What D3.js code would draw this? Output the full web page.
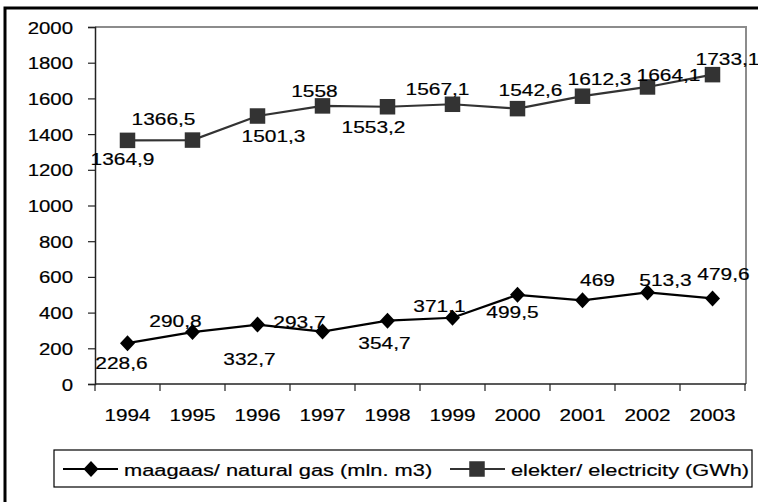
<!DOCTYPE html>
<html>
<head>
<meta charset="utf-8">
<script src="https://cdn.jsdelivr.net/npm/d3@7"></script>
<style>
  html, body { margin: 0; padding: 0; background: #fff; }
  svg { display: block; }
  text { font-family: "Liberation Sans", Arial, Helvetica, sans-serif; font-size: 17px; fill: #000; stroke: #000; stroke-width: 0.2px; }
</style>
</head>
<body>
<svg id="chart" width="758" height="502"></svg>
<script>
// ---- data ----
const years = ["1994","1995","1996","1997","1998","1999","2000","2001","2002","2003"];
const gasValues = [228.6, 290.8, 332.7, 293.7, 354.7, 371.1, 499.5, 469, 513.3, 479.6];
const elecValues = [1364.9, 1366.5, 1501.3, 1558, 1553.2, 1567.1, 1542.6, 1612.3, 1664.1, 1733.1];
const gasLabels = ["228,6","290,8","332,7","293,7","354,7","371,1","499,5","469","513,3","479,6"];
const elecLabels = ["1364,9","1366,5","1501,3","1558","1553,2","1567,1","1542,6","1612,3","1664,1","1733,1"];
const yTicks = [0, 200, 400, 600, 800, 1000, 1200, 1400, 1600, 1800, 2000];
const seriesNames = ["maagaas/ natural gas (mln. m3)", "elekter/ electricity (GWh)"];

// label placement offsets relative to each point (dx of label centre, dy of baseline)
const gasLabelDx = [-6, -17, -8, -23, -3, -13, -5, 15, 18, 11];
const gasLabelDy = [26, -5, 40, -4, 28, -6, 23, -14, -6, -18];
const elecLabelDx = [-5, -29, 16, -8, -14, -15, 13, 17, 21, 15];
const elecLabelDy = [25, -15, 26, -9, 26, -9, -13, -11, -6, -10];

// ---- layout ----
const svg = d3.select("#chart");
const pLeft = 95, pRight = 746, pTop = 27, pBottom = 384;

const x = d3.scaleBand().domain(years).range([pLeft, pRight - 1]);
const y = d3.scaleLinear().domain([0, 2000]).range([pBottom, pTop]);
const cx = d => x(d) + x.bandwidth() / 2;

function stretchedText(g, tx, ty, str, anchor, sx) {
  return g.append("text")
    .attr("transform", `translate(${tx},${ty}) scale(${sx || 1.2},1)`)
    .attr("text-anchor", anchor || "middle")
    .text(str);
}

// outer frame
svg.append("rect")
  .attr("x", 5).attr("y", 8).attr("width", 800).attr("height", 600)
  .attr("fill", "none").attr("stroke", "#000").attr("stroke-width", 3);

// plot area border (top & right, gray)
svg.append("path")
  .attr("d", `M${pLeft},${pTop}H${pRight}V${pBottom}`)
  .attr("fill", "none").attr("stroke", "#8c8c8c").attr("stroke-width", 2);

// y axis
const yAxis = svg.append("g")
  .attr("transform", `translate(${pLeft},0)`)
  .call(d3.axisLeft(y).tickValues(yTicks).tickSize(7).tickFormat(d3.format("d")));
yAxis.select(".domain").attr("stroke", "#222").attr("stroke-width", 1.5);
yAxis.selectAll(".tick line").attr("stroke", "#222").attr("stroke-width", 1.2);
yAxis.selectAll(".tick text")
  .attr("x", null).attr("dy", null)
  .attr("transform", `translate(-22,6) scale(1.2,1)`)
  .attr("text-anchor", "end")
  .style("font-size", "17px")
  .style("font-family", "'Liberation Sans', Arial, sans-serif")
  .attr("fill", "#000");

// x axis
const xg = svg.append("g");
xg.append("line")
  .attr("x1", pLeft).attr("x2", pRight).attr("y1", pBottom).attr("y2", pBottom)
  .attr("stroke", "#222").attr("stroke-width", 1.5);
const boundaries = years.map(d => x(d)).concat([x.range()[1]]);
xg.selectAll("line.tk").data(boundaries).enter().append("line")
  .attr("class", "tk")
  .attr("x1", d => d).attr("x2", d => d)
  .attr("y1", pBottom).attr("y2", pBottom + 7)
  .attr("stroke", "#222").attr("stroke-width", 1.2);
years.forEach(d => stretchedText(xg, cx(d), 421, d, "middle", 1.22));

// series
const line = d3.line().x((d, i) => cx(years[i])).y(d => y(d));

// gas
svg.append("path").datum(gasValues)
  .attr("d", line).attr("fill", "none")
  .attr("stroke", "#000").attr("stroke-width", 2.2);
const diamond = (px, py) => `M${px},${py - 8}L${px + 7.5},${py}L${px},${py + 8}L${px - 7.5},${py}Z`;
svg.append("g").selectAll("path").data(gasValues).enter().append("path")
  .attr("d", (d, i) => diamond(cx(years[i]), y(d)))
  .attr("fill", "#000");

// electricity
svg.append("path").datum(elecValues)
  .attr("d", line).attr("fill", "none")
  .attr("stroke", "#333").attr("stroke-width", 2.2);
svg.append("g").selectAll("rect").data(elecValues).enter().append("rect")
  .attr("x", (d, i) => cx(years[i]) - 7.75)
  .attr("y", d => y(d) - 7.75)
  .attr("width", 15.5).attr("height", 15.5)
  .attr("fill", "#333");

// data labels
const lg = svg.append("g");
gasValues.forEach((v, i) => stretchedText(lg, cx(years[i]) + gasLabelDx[i], y(v) + gasLabelDy[i], gasLabels[i], "middle", 1.23));
elecValues.forEach((v, i) => stretchedText(lg, cx(years[i]) + elecLabelDx[i], y(v) + elecLabelDy[i], elecLabels[i], "middle", 1.23));

// legend
const leg = svg.append("g");
leg.append("rect")
  .attr("x", 54).attr("y", 450).attr("width", 698).attr("height", 37)
  .attr("fill", "#fff").attr("stroke", "#000").attr("stroke-width", 1.2);
// item 1
leg.append("line").attr("x1", 63).attr("x2", 118).attr("y1", 469).attr("y2", 469)
  .attr("stroke", "#000").attr("stroke-width", 2.2);
leg.append("path").attr("d", diamond(91, 469)).attr("fill", "#000");
stretchedText(leg, 124, 476, seriesNames[0], "start", 1.285);
// item 2
leg.append("line").attr("x1", 450).attr("x2", 505).attr("y1", 469).attr("y2", 469)
  .attr("stroke", "#333").attr("stroke-width", 2.2);
leg.append("rect").attr("x", 477 - 7.75).attr("y", 469 - 7.75).attr("width", 15.5).attr("height", 15.5)
  .attr("fill", "#333");
stretchedText(leg, 511, 476, seriesNames[1], "start", 1.28);
</script>
</body>
</html>
